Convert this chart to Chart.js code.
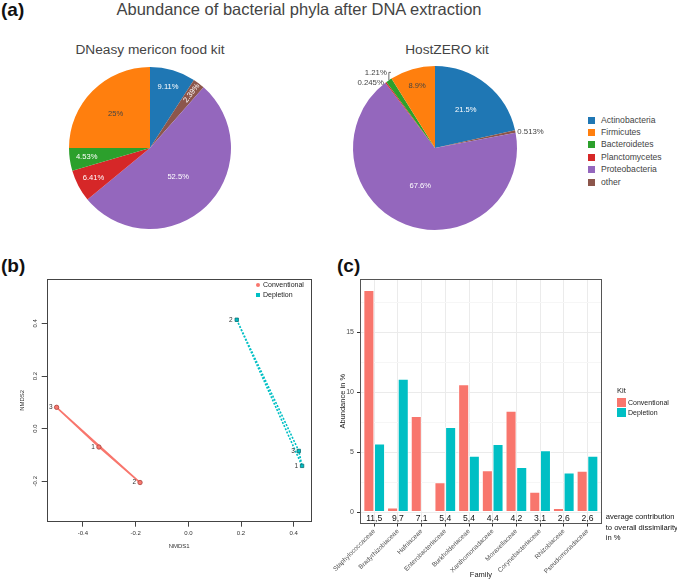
<!DOCTYPE html>
<html>
<head>
<meta charset="utf-8">
<script src="https://cdn.jsdelivr.net/npm/chart.js@4.4.1/dist/chart.umd.min.js"></script>
<style>
   body { margin: 0; width: 677px; height: 579px; position: relative; overflow: hidden; background: #fff; font-family: "Liberation Sans", Arial, sans-serif; }
   .box { position: absolute; }
   .t { position: absolute; white-space: nowrap; color: #444; line-height: 1; }
   .c { transform: translate(-50%, -50%); }
   .tag { position: absolute; font-weight: bold; font-size: 19px; color: #111; line-height: 1; }
   .sw { position: absolute; }
</style>
</head>
<body>
<div class="tag" style="left:1px;top:0px">(a)</div>
<div class="tag" style="left:1px;top:256px">(b)</div>
<div class="tag" style="left:337px;top:256px">(c)</div>
<div class="t c" style="left:299px;top:9px;font-size:16.5px">Abundance of bacterial phyla after DNA extraction</div>
<div class="t c" style="left:150px;top:50px;font-size:13.7px">DNeasy mericon food kit</div>
<div class="t c" style="left:447px;top:50px;font-size:13.7px">HostZERO kit</div>

<div class="box" style="left:50px;top:48px;width:200px;height:200px"><canvas id="pieDneasy"></canvas></div>
<div class="box" style="left:325px;top:38px;width:220px;height:220px"><canvas id="pieHostzero"></canvas></div>
<div id="phylaLegend"></div>

<div class="box" style="left:0px;top:270px;width:330px;height:300px"><canvas id="nmdsChart"></canvas></div>
<div id="nmdsLegend"></div>

<div class="box" style="left:330px;top:270px;width:347px;height:309px"><canvas id="familyChart"></canvas></div>
<div id="kitLegend"></div>

<script>
   // ---------- (a) phyla ----------
   const phyla = ["Actinobacteria", "Firmicutes", "Bacteroidetes", "Planctomycetes", "Proteobacteria", "other"];
   const phylaColors = ["#1f77b4", "#ff7f0e", "#2ca02c", "#d62728", "#9467bd", "#8c564b"];
   const dneasyPct = [9.11, 25, 4.53, 6.41, 52.5, 2.39];
   const hostzeroPct = [21.5, 8.9, 1.21, 0.245, 67.6, 0.513];
   // slices go clockwise from 12 o'clock in this order
   const sliceOrder = [0, 5, 4, 3, 2, 1];

   // ---------- (b) NMDS ----------
   const sampleIds = ["1", "2", "3"];
   const convNmds1 = [-0.339, -0.183, -0.4995];
   const convNmds2 = [-0.07, -0.205, 0.081];
   const deplNmds1 = [0.4315, 0.1837, 0.419];
   const deplNmds2 = [-0.1417, 0.414, -0.085];
   const convHull = [2, 0, 1, 2];
   const deplHull = [1, 2, 0, 1];
   const nmdsTicksX = [-0.4, -0.2, 0, 0.2, 0.4];
   const nmdsTicksY = [-0.2, 0, 0.2, 0.4];

   // ---------- (c) families ----------
   const families = ["Staphylococcaceae", "Bradyrhizobiaceae", "Hafniaceae", "Enterobacteriaceae", "Burkholderiaceae",
      "Xanthomonadaceae", "Moraxellaceae", "Corynebacteriaceae", "Rhizobiaceae", "Pseudomonadaceae"];
   const conventional = [18.5, 0.4, 8.0, 2.5, 10.65, 3.5, 8.45, 1.7, 0.35, 3.45];
   const depletion = [5.72, 11.1, 0.08, 7.1, 4.7, 5.67, 3.76, 5.15, 3.3, 4.7];
   const contribution = ["11,5", "9,7", "7,1", "5,4", "5,4", "4,4", "4,2", "3,1", "2,6", "2,6"];
   const abundanceTicks = [0, 2.5, 5, 7.5, 10, 12.5, 15, 17.5];

   const convColor = "#F8766D";
   const deplColor = "#00BFC4";
   const FONT = '"Liberation Sans", Arial, sans-serif';

   Chart.defaults.font.family = FONT;
   Chart.defaults.devicePixelRatio = 1;

   const isLight = (hex) => {
      const r = parseInt(hex.slice(1, 3), 16), g = parseInt(hex.slice(3, 5), 16), b = parseInt(hex.slice(5, 7), 16);
      return 0.299 * r + 0.587 * g + 0.114 * b > 140;
   };

   // percentage labels, plotly style
   const pieLabels = {
      id: "pieLabels",
      afterDatasetsDraw(chart) {
         const ctx = chart.ctx;
         const ds = chart.data.datasets[0];
         const arcs = chart.getDatasetMeta(0).data;
         let prevOut = null;
         ctx.save();
         arcs.forEach((arc, i) => {
            const pct = ds.data[i];
            const p = arc.getProps(["x", "y", "startAngle", "endAngle", "outerRadius"], true);
            const mid = (p.startAngle + p.endAngle) / 2;
            const cos = Math.cos(mid), sin = Math.sin(mid);
            const R = p.outerRadius;
            const text = pct + "%";
            ctx.textBaseline = "middle";
            if (pct >= 3) {
               const f = pct > 40 ? 0.5 : pct > 15 ? 0.6 : 0.79;
               ctx.font = "7.6px " + FONT;
               ctx.fillStyle = isLight(ds.backgroundColor[i]) ? "#444" : "#fff";
               ctx.textAlign = "center";
               ctx.fillText(text, p.x + cos * R * f, p.y + sin * R * f);
            } else if (pct >= 1.5) {
               ctx.save();
               ctx.translate(p.x + cos * R * 0.85, p.y + sin * R * 0.85);
               ctx.rotate(cos >= 0 ? mid : mid + Math.PI);
               ctx.font = "7.6px " + FONT;
               ctx.fillStyle = isLight(ds.backgroundColor[i]) ? "#444" : "#fff";
               ctx.textAlign = "center";
               ctx.fillText(text, 0, 0);
               ctx.restore();
            } else {
               const ex = p.x + cos * R, ey = p.y + sin * R;
               const side = cos >= 0 ? 1 : -1;
               let ly = ey;
               ctx.font = "7.8px " + FONT;
               ctx.fillStyle = "#444";
               ctx.strokeStyle = "#444";
               ctx.lineWidth = 0.8;
               if (prevOut && prevOut.side === side && Math.abs(ly - prevOut.y) < 9) {
                  ly = prevOut.y - 10;
                  ctx.beginPath();
                  ctx.moveTo(ex, ey);
                  ctx.lineTo(ex, ly);
                  ctx.lineTo(ex - side * 2, ly);
                  ctx.stroke();
               }
               ctx.textAlign = side > 0 ? "left" : "right";
               ctx.fillText(text, ex + side * 2, ly);
               prevOut = { side, y: ly };
            }
         });
         ctx.restore();
      },
   };

   const makePie = (id, values, radius) => {
      new Chart(document.getElementById(id), {
         type: "pie",
         data: {
            labels: sliceOrder.map((k) => phyla[k]),
            datasets: [
               {
                  data: sliceOrder.map((k) => values[k]),
                  backgroundColor: sliceOrder.map((k) => phylaColors[k]),
                  borderWidth: 0,
                  radius: radius,
               },
            ],
         },
         options: {
            responsive: true,
            maintainAspectRatio: false,
            animation: false,
            plugins: { legend: { display: false }, tooltip: { enabled: false } },
         },
         plugins: [pieLabels],
      });
   };
   makePie("pieDneasy", dneasyPct, 81);
   makePie("pieHostzero", hostzeroPct, 82);

   // phyla legend
   const phylaLegend = document.getElementById("phylaLegend");
   phyla.forEach((name, i) => {
      const y = 120 + i * 12.4;
      phylaLegend.insertAdjacentHTML("beforeend",
         `<div class="sw" style="left:588px;top:${y - 3.5}px;width:7px;height:7px;background:${phylaColors[i]}"></div>` +
         `<div class="t" style="left:601px;top:${y - 4.5}px;font-size:8.6px">${name}</div>`);
   });

   // box round the chart area
   const frame = {
      id: "frame",
      afterDraw(chart, args, opts) {
         const { ctx, chartArea: a } = chart;
         ctx.save();
         ctx.strokeStyle = opts.color || "#333";
         ctx.lineWidth = 1;
         ctx.strokeRect(Math.round(a.left) + 0.5, Math.round(a.top) + 0.5, Math.round(a.width) - 1, Math.round(a.height) - 1);
         ctx.restore();
      },
   };

   // sample numbers next to NMDS points
   const pointIds = {
      id: "pointIds",
      afterDatasetsDraw(chart) {
         const ctx = chart.ctx;
         ctx.save();
         ctx.font = "6.5px " + FONT;
         ctx.fillStyle = "#333";
         ctx.textAlign = "right";
         ctx.textBaseline = "middle";
         chart.data.datasets.forEach((ds, di) => {
            if (!ds.ids) return;
            chart.getDatasetMeta(di).data.forEach((pt, i) => ctx.fillText(ds.ids[i], pt.x - 4, pt.y));
         });
         ctx.restore();
      },
   };

   const toXY = (xs, ys) => xs.map((x, i) => ({ x, y: ys[i] }));

   new Chart(document.getElementById("nmdsChart"), {
      type: "scatter",
      data: {
         datasets: [
            {
               label: "Conventional",
               data: toXY(convNmds1, convNmds2),
               ids: sampleIds,
               pointStyle: "circle",
               pointRadius: 2.2,
               backgroundColor: convColor,
               borderColor: "#a8453f",
               borderWidth: 0.8,
               order: 0,
            },
            {
               label: "Depletion",
               data: toXY(deplNmds1, deplNmds2),
               ids: sampleIds,
               pointStyle: "rect",
               pointRadius: 2.4,
               backgroundColor: deplColor,
               borderColor: "#0a6f72",
               borderWidth: 0.8,
               order: 0,
            },
            {
               type: "line",
               data: convHull.map((k) => ({ x: convNmds1[k], y: convNmds2[k] })),
               showLine: true,
               borderColor: convColor,
               borderWidth: 1.6,
               pointRadius: 0,
               tension: 0,
               fill: false,
               order: 1,
            },
            {
               type: "line",
               data: deplHull.map((k) => ({ x: deplNmds1[k], y: deplNmds2[k] })),
               showLine: true,
               borderColor: deplColor,
               borderWidth: 1.6,
               borderDash: [2, 1.5],
               pointRadius: 0,
               tension: 0,
               fill: false,
               order: 1,
            },
         ],
      },
      options: {
         responsive: true,
         maintainAspectRatio: false,
         animation: false,
         layout: { padding: { left: 0, right: 18.3, top: 9, bottom: 0 } },
         plugins: { legend: { display: false }, tooltip: { enabled: false }, frame: { color: "#444" } },
         scales: {
            x: {
               type: "linear",
               min: -0.537,
               max: 0.468,
               afterBuildTicks: (s) => { s.ticks = nmdsTicksX.map((v) => ({ value: v })); },
               afterFit: (s) => { s.height = 48.3; },
               grid: { drawOnChartArea: false, tickLength: 5, color: "#444" },
               border: { display: false },
               ticks: { font: { size: 6 }, color: "#333", padding: 3, callback: (v) => v.toFixed(1) },
               title: { display: true, text: "NMDS1", font: { size: 6 }, color: "#333", padding: { top: 0, bottom: 19.7 } },
            },
            y: {
               type: "linear",
               min: -0.354,
               max: 0.569,
               afterBuildTicks: (s) => { s.ticks = nmdsTicksY.map((v) => ({ value: v })); },
               afterFit: (s) => { s.width = 46.7; },
               grid: { drawOnChartArea: false, tickLength: 5, color: "#444" },
               border: { display: false },
               ticks: { font: { size: 6 }, color: "#333", padding: 1, minRotation: 90, maxRotation: 90, crossAlign: "center", callback: (v) => v.toFixed(1) },
               title: { display: true, text: "NMDS2", font: { size: 6 }, color: "#333", padding: { top: 19.1, bottom: 0 } },
            },
         },
      },
      plugins: [frame, pointIds],
   });

   document.getElementById("nmdsLegend").innerHTML =
      `<div class="sw" style="left:256px;top:283px;width:4px;height:4px;border-radius:50%;background:${convColor}"></div>` +
      `<div class="t" style="left:263px;top:281px;font-size:7px;color:#222">Conventional</div>` +
      `<div class="sw" style="left:256px;top:293px;width:4px;height:4px;background:${deplColor}"></div>` +
      `<div class="t" style="left:263px;top:291px;font-size:7px;color:#222">Depletion</div>`;

   // contribution numbers + note below the bars
   const contribText = {
      id: "contribText",
      afterDatasetsDraw(chart) {
         const { ctx, chartArea: a, scales } = chart;
         ctx.save();
         ctx.fillStyle = "#111";
         ctx.font = "8.6px " + FONT;
         ctx.textAlign = "center";
         ctx.textBaseline = "middle";
         const y = scales.y.getPixelForValue(-0.5);
         contribution.forEach((c, i) => ctx.fillText(c, scales.x.getPixelForValue(i + 1), y));
         ctx.font = "7.6px " + FONT;
         ctx.textAlign = "left";
         ["average contribution", "to overall dissimilarity", "in %"].forEach((line, k) => {
            ctx.fillText(line, a.right + 4, y - 1 + k * 10.2);
         });
         ctx.restore();
      },
   };

   new Chart(document.getElementById("familyChart"), {
      type: "bar",
      data: {
         datasets: [
            {
               label: "Conventional",
               data: conventional.map((v, i) => ({ x: i + 1, y: v })),
               backgroundColor: convColor,
               borderColor: "#fff",
               borderWidth: 0.8,
               borderSkipped: false,
            },
            {
               label: "Depletion",
               data: depletion.map((v, i) => ({ x: i + 1, y: v })),
               backgroundColor: deplColor,
               borderColor: "#fff",
               borderWidth: 0.8,
               borderSkipped: false,
            },
         ],
      },
      options: {
         responsive: true,
         maintainAspectRatio: false,
         animation: false,
         categoryPercentage: 0.9,
         barPercentage: 1.0,
         layout: { padding: { left: 0, right: 75.3, top: 9, bottom: 0 } },
         plugins: { legend: { display: false }, tooltip: { enabled: false }, frame: { color: "#555" } },
         scales: {
            x: {
               type: "linear",
               offset: false,
               min: 0.4,
               max: 10.6,
               afterBuildTicks: (s) => { s.ticks = families.map((f, i) => ({ value: i + 1 })); },
               afterFit: (s) => { s.height = 55.5; },
               grid: { offset: false, color: "#ebebeb", tickLength: 3, tickColor: "#333" },
               border: { display: false },
               ticks: {
                  font: { size: 6.5 },
                  color: "#4d4d4d",
                  padding: 1,
                  minRotation: 45,
                  maxRotation: 45,
                  autoSkip: false,
                  callback: (v) => families[v - 1],
               },
               title: { display: true, text: "Family", font: { size: 7.5, lineHeight: 1 }, color: "#222", padding: { top: 0, bottom: 0.3 } },
            },
            y: {
               min: -0.925,
               max: 19.43,
               afterBuildTicks: (s) => { s.ticks = abundanceTicks.map((v) => ({ value: v })); },
               afterFit: (s) => { s.width = 30; },
               grid: {
                  color: (c) => (c.tick && c.tick.value % 5 === 0 ? "#ebebeb" : "#f6f6f6"),
                  tickColor: (c) => (c.tick && c.tick.value % 5 === 0 ? "#333" : "rgba(0,0,0,0)"),
                  tickLength: 3,
               },
               border: { display: false },
               ticks: { font: { size: 7 }, color: "#4d4d4d", padding: 3, callback: (v) => (v % 5 === 0 ? String(v) : "") },
               title: { display: true, text: "Abundance in %", font: { size: 7.5 }, color: "#222", padding: { top: 8.5, bottom: 0 } },
            },
         },
      },
      plugins: [frame, contribText],
   });

   document.getElementById("kitLegend").innerHTML =
      `<div class="t" style="left:617px;top:387px;font-size:7.5px;color:#222">Kit</div>` +
      `<div class="sw" style="left:617px;top:398px;width:9px;height:8.5px;background:${convColor}"></div>` +
      `<div class="t" style="left:628px;top:398.5px;font-size:7px;color:#222">Conventional</div>` +
      `<div class="sw" style="left:617px;top:408px;width:9px;height:8.5px;background:${deplColor}"></div>` +
      `<div class="t" style="left:628px;top:408.5px;font-size:7px;color:#222">Depletion</div>`;
</script>
</body>
</html>
